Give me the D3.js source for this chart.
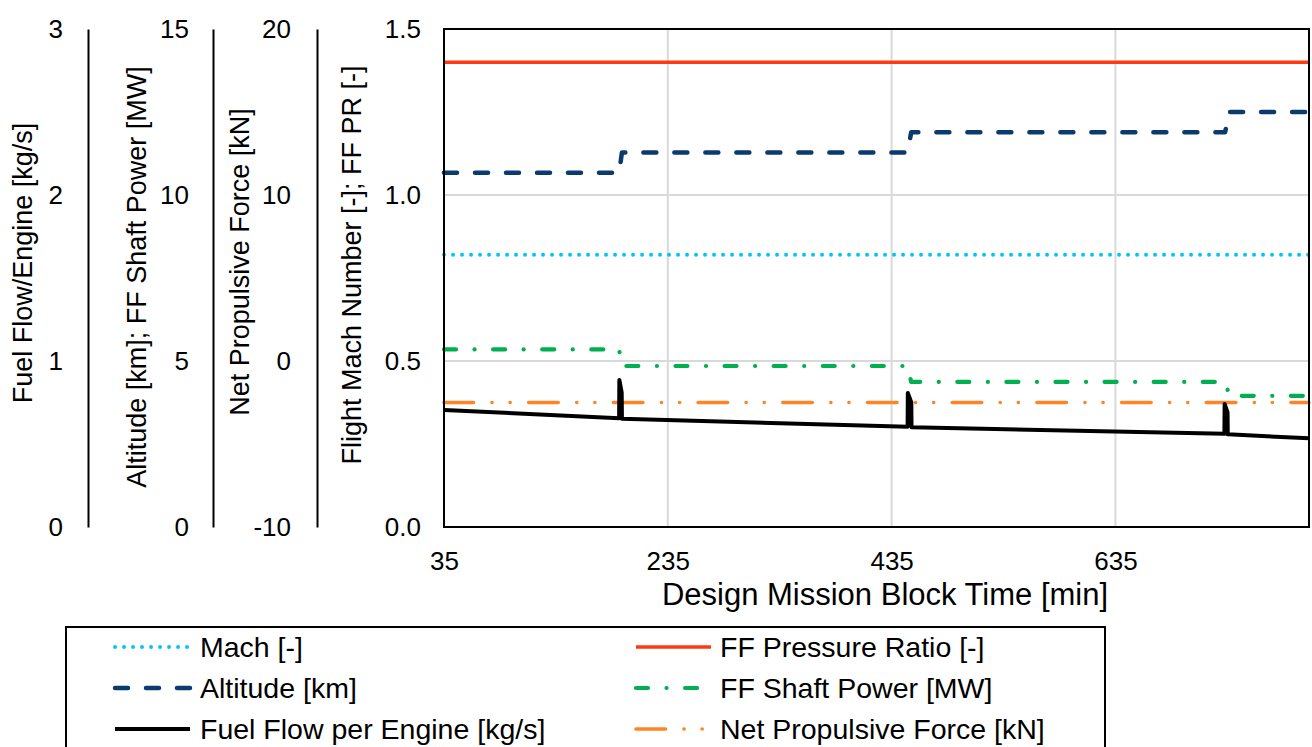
<!DOCTYPE html>
<html>
<head>
<meta charset="utf-8">
<script src="https://cdn.jsdelivr.net/npm/d3@7/dist/d3.min.js"></script>
<style>
  html, body { margin: 0; padding: 0; background: #fff; }
  svg { display: block; font-family: "Liberation Sans", Arial, sans-serif; }
</style>
</head>
<body>
<svg id="chart" width="1312" height="747"></svg>
<script>
// ---------------- data ----------------
const xTicks = [35, 235, 435, 635];
const xDomain = [35, 808];
const machAxisTicks = [0, 0.5, 1.0, 1.5];
const fuelAxisTicks = [0, 1, 2, 3];
const altAxisTicks = [0, 5, 10, 15];
const forceAxisTicks = [-10, 0, 10, 20];

const machTime = [35, 808];
const machValues = [0.82, 0.82];

const ffprTime = [35, 808];
const ffprValues = [1.4, 1.4];

const altitudeTime = [35, 191.5, 194, 449.3, 452.5, 733, 737, 808];
const altitudeValues = [10.67, 10.67, 11.28, 11.28, 11.89, 11.89, 12.50, 12.50];

const shaftPowerTime = [35, 191.5, 194, 449.3, 452.5, 733, 737, 808];
const shaftPowerValues = [5.35, 5.35, 4.85, 4.85, 4.37, 4.37, 3.95, 3.95];

const fuelFlowTime = [35, 191.5, 191.7, 193.8, 194, 449.3, 449.5, 452.6, 452.8, 732.4, 732.6, 735.2, 735.4, 808];
const fuelFlowValues = [0.705, 0.655, 0.886, 0.81, 0.652, 0.604, 0.807, 0.75, 0.601, 0.561, 0.741, 0.69, 0.558, 0.534];

const netForceTime = [35, 808];
const netForceValues = [-2.5, -2.5];

const legendLabels = ["Mach [-]", "FF Pressure Ratio [-]", "Altitude [km]", "FF Shaft Power [MW]", "Fuel Flow per Engine [kg/s]", "Net Propulsive Force [kN]"];

// ---------------- layout ----------------
const svg = d3.select("#chart");
const L = 444, R = 1309, T = 29, B = 527;

const x = d3.scaleLinear().domain(xDomain).range([L, R]);
const yMain = d3.scaleLinear().domain([0, 1.5]).range([B, T]);
const yFuel = d3.scaleLinear().domain([0, 3]).range([B, T]);
const yAlt = d3.scaleLinear().domain([0, 15]).range([B, T]);
const yForce = d3.scaleLinear().domain([-10, 20]).range([B, T]);

const intFmt = d => String(Math.round(d));          // plain hyphen minus
const oneDec = d => d.toFixed(1);

// gridlines
const grid = svg.append("g");
grid.selectAll("line.v").data(xTicks.slice(1)).enter().append("line")
  .attr("x1", d => x(d)).attr("x2", d => x(d)).attr("y1", T).attr("y2", B)
  .attr("stroke", "#d9d9d9").attr("stroke-width", 2);
grid.selectAll("line.h").data([0.5, 1.0]).enter().append("line")
  .attr("x1", L).attr("x2", R).attr("y1", d => yMain(d)).attr("y2", d => yMain(d))
  .attr("stroke", "#d9d9d9").attr("stroke-width", 2);

function styleAxis(g) {
  g.selectAll("text").attr("font-size", 26).attr("fill", "#000");
  g.select(".domain").attr("stroke", "#000").attr("stroke-width", 2);
}

// main y axis
svg.append("g").attr("transform", `translate(${L},0)`)
  .call(d3.axisLeft(yMain).tickValues(machAxisTicks).tickFormat(oneDec).tickSize(0).tickPadding(23))
  .call(g => { styleAxis(g); g.select(".domain").remove(); });

// fuel axis
svg.append("g").attr("transform", `translate(88,0)`)
  .call(d3.axisLeft(yFuel).tickValues(fuelAxisTicks).tickFormat(intFmt).tickSize(0).tickPadding(25))
  .call(styleAxis);
// altitude / shaft power axis
svg.append("g").attr("transform", `translate(213,0)`)
  .call(d3.axisLeft(yAlt).tickValues(altAxisTicks).tickFormat(intFmt).tickSize(0).tickPadding(24))
  .call(styleAxis);
// force axis
svg.append("g").attr("transform", `translate(317,0)`)
  .call(d3.axisLeft(yForce).tickValues(forceAxisTicks).tickFormat(intFmt).tickSize(0).tickPadding(26))
  .call(styleAxis);

// x axis
svg.append("g").attr("transform", `translate(0,${B})`)
  .call(d3.axisBottom(x).tickValues(xTicks).tickFormat(intFmt).tickSize(0).tickPadding(25))
  .call(g => { styleAxis(g); g.select(".domain").remove(); });

// axis titles
const titles = [
  { text: "Fuel Flow/Engine [kg/s]", x: 32, y: 263 },
  { text: "Altitude [km]; FF Shaft Power [MW]", x: 146, y: 277 },
  { text: "Net Propulsive Force [kN]", x: 249, y: 262 },
  { text: "Flight Mach Number [-]; FF PR [-]", x: 361, y: 265 }
];
svg.selectAll("text.ytitle").data(titles).enter().append("text")
  .attr("class", "ytitle")
  .attr("transform", d => `translate(${d.x},${d.y}) rotate(-90)`)
  .attr("text-anchor", "middle").attr("font-size", 27).attr("fill", "#000")
  .text(d => d.text);

svg.append("text").attr("x", 885).attr("y", 605).attr("text-anchor", "middle")
  .attr("font-size", 31).attr("fill", "#000").text("Design Mission Block Time [min]");

// ---------------- series ----------------
const styles = {
  mach:  { color: "#00c4f8", width: 3.8, dash: "0.1,8.9" },
  ffpr:  { color: "#ff3a12", width: 3.5, dash: null },
  alt:   { color: "#0b3a6e", width: 4.5, dash: "13,18" },
  shaft: { color: "#00b050", width: 4.2, dash: "12,18.5,0.1,18.5" },
  fuel:  { color: "#000000", width: 4, dash: null },
  force: { color: "#ff8426", width: 3.6, dash: "29.5,18.5,0.1,18,0.1,18.5" }
};

const plot = svg.append("g");
function drawSeries(times, values, yScale, st) {
  const pts = times.map((t, i) => [t, values[i]]);
  const line = d3.line().x(d => x(d[0])).y(d => yScale(d[1]));
  plot.append("path").datum(pts).attr("d", line)
    .attr("fill", "none").attr("stroke", st.color).attr("stroke-width", st.width)
    .attr("stroke-linecap", st.dash ? "round" : "butt")
    .attr("stroke-linejoin", "round")
    .attr("stroke-dasharray", st.dash);
}
drawSeries(machTime, machValues, yMain, styles.mach);
drawSeries(ffprTime, ffprValues, yMain, styles.ffpr);
drawSeries(altitudeTime, altitudeValues, yAlt, styles.alt);
drawSeries(shaftPowerTime, shaftPowerValues, yAlt, styles.shaft);
drawSeries(netForceTime, netForceValues, yForce, styles.force);
drawSeries(fuelFlowTime, fuelFlowValues, yFuel, styles.fuel);

// plot border
svg.append("rect").attr("x", L).attr("y", T).attr("width", R - L).attr("height", B - T)
  .attr("fill", "none").attr("stroke", "#000").attr("stroke-width", 2);

// ---------------- legend ----------------
svg.append("rect").attr("x", 66).attr("y", 627).attr("width", 1105 - 66).attr("height", 140)
  .attr("fill", "none").attr("stroke", "#000").attr("stroke-width", 2);

const legendKeys = ["mach", "ffpr", "alt", "shaft", "fuel", "force"];
const rowsY = [647, 688, 729];
const colLine = [[115, 190], [636, 711]];
const colText = [200, 720];
legendKeys.forEach((k, i) => {
  const col = i % 2, row = Math.floor(i / 2);
  const st = styles[k];
  svg.append("line")
    .attr("x1", colLine[col][0]).attr("x2", colLine[col][1])
    .attr("y1", rowsY[row]).attr("y2", rowsY[row])
    .attr("stroke", st.color).attr("stroke-width", st.width)
    .attr("stroke-linecap", st.dash ? "round" : "butt")
    .attr("stroke-dasharray", st.dash);
  svg.append("text").attr("x", colText[col]).attr("y", rowsY[row]).attr("dy", "0.35em")
    .attr("font-size", 28.5).attr("fill", "#000").text(legendLabels[i]);
});
</script>
</body>
</html>
